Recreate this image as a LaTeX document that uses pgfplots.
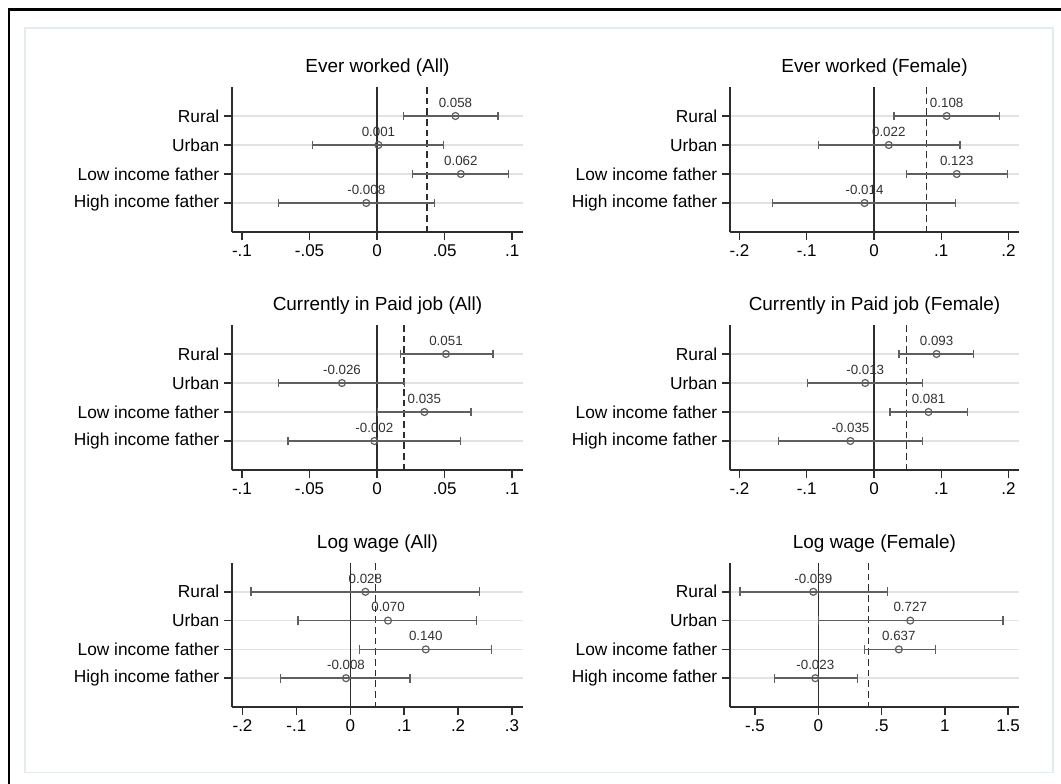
\documentclass[border=0pt]{standalone}
\usepackage{fontspec}
\setmainfont{Liberation Sans}
\usepackage{pgfplots}
\usepackage{pgfplotstable}
\pgfplotsset{compat=1.18}

\definecolor{gridc}{RGB}{226,226,226}
\definecolor{axc}{RGB}{45,45,45}
\definecolor{cic}{RGB}{95,95,95}
\definecolor{valc}{RGB}{50,50,50}
\definecolor{framec}{RGB}{228,236,238}

% Ever worked (All)
\pgfplotstableread{
pos est lo hi lab
1 0.058 0.0195 0.0894 0.058
2 0.001 -0.0479 0.0491 0.001
3 0.062 0.0262 0.0973 0.062
4 -0.008 -0.0731 0.0425 -0.008
}\tabA
% Ever worked (Female)
\pgfplotstableread{
pos est lo hi lab
1 0.108 0.0297 0.187 0.108
2 0.022 -0.0822 0.128 0.022
3 0.123 0.0485 0.198 0.123
4 -0.014 -0.1505 0.1214 -0.014
}\tabB
% Currently in Paid job (All)
\pgfplotstableread{
pos est lo hi lab
1 0.051 0.0173 0.0857 0.051
2 -0.026 -0.0729 0.0205 -0.026
3 0.035 0.0005 0.0696 0.035
4 -0.002 -0.066 0.0617 -0.002
}\tabC
% Currently in Paid job (Female)
\pgfplotstableread{
pos est lo hi lab
1 0.093 0.0372 0.1476 0.093
2 -0.013 -0.0986 0.0718 -0.013
3 0.081 0.0238 0.1387 0.081
4 -0.035 -0.1422 0.0718 -0.035
}\tabD
% Log wage (All)
\pgfplotstableread{
pos est lo hi lab
1 0.028 -0.184 0.240 0.028
2 0.070 -0.097 0.2338 0.070
3 0.140 0.0167 0.2616 0.140
4 -0.008 -0.130 0.111 -0.008
}\tabE
% Log wage (Female)
\pgfplotstableread{
pos est lo hi lab
1 -0.039 -0.618 0.548 -0.039
2 0.727 0.002 1.46 0.727
3 0.637 0.363 0.927 0.637
4 -0.023 -0.347 0.311 -0.023
}\tabF

\pgfplotsset{
  forest/.style={
    scale only axis,
    y dir=reverse, ymin=0, ymax=5,
    ytick={1,2,3,4},
    yticklabels={Rural,Urban,Low income father,High income father},
    axis x line*=bottom, axis y line*=left,
    axis line style={draw=axc, line width=1.3pt, -},
    ymajorgrids, grid style={draw=gridc, line width=1.3pt},
    tick style={draw=axc, line width=1.1pt},
    tick align=outside,
    major tick length=6pt,
    yticklabel style={font=\fontsize{13}{15}\selectfont, text=black},
    xticklabel style={font=\fontsize{12.75}{15}\selectfont, text=black},
    title style={font=\fontsize{14.2}{16}\selectfont, at={(0.5,1)}, anchor=south, yshift=1pt, inner sep=1pt},
    clip=false,
    anchor=north west,
  },
  leftcol/.style={width=218.25pt},
  rightcol/.style={width=216.75pt},
  small/.style={xmin=-0.1074, xmax=0.108, xtick={-0.1,-0.05,0,0.05,0.1}, xticklabels={-.1,-.05,0,.05,.1}},
  large/.style={xmin=-0.214, xmax=0.2155, xtick={-0.2,-0.1,0,0.1,0.2}, xticklabels={-.2,-.1,0,.1,.2}},
  zeroline/.style={draw=axc, line width=1.1pt, no marks},
  meanline/.style={draw=axc, line width=1.1pt, dashed, dash pattern=on 5pt off 3pt, no marks},
  ci/.style={draw=none, mark=o, mark size=2.6pt, mark options={draw=cic, fill=white, line width=0.9pt, solid},
    error bars/.cd, x dir=both, x explicit,
    error mark=|,
    error bar style={draw=cic, line width=1.2pt},
    error mark options={draw=cic, line width=1.0pt, mark size=3.3pt}},
  vals/.style={draw=none, no marks, nodes near coords, point meta=explicit symbolic,
    every node near coord/.style={font=\fontsize{10}{12}\selectfont, text=valc, anchor=south, yshift=6.2pt, inner sep=0pt}},
}

\newcommand{\panelplots}[2]{%
  \addplot[zeroline] coordinates {(0,0) (0,5)};
  \addplot[meanline] coordinates {(#2,0) (#2,5)};
  \addplot[ci] table[x=est, y=pos, x error plus expr=\thisrow{hi}-\thisrow{est}, x error minus expr=\thisrow{est}-\thisrow{lo}] {#1};
  \addplot[vals] table[x=est, y=pos, meta=lab] {#1};
}

\begin{document}
\begin{tikzpicture}
\useasboundingbox (0,0) rectangle (795.75pt,-588pt);
\fill[white] (0,0) rectangle (795.75pt,-588pt);
\draw[black, line width=1.6pt] (6pt,-7.1pt) -- (795.75pt,-7.1pt);
\draw[black, line width=1.6pt] (6.75pt,-7.1pt) -- (6.75pt,-588pt);
\draw[framec, line width=1.1pt] (18.75pt,-21pt) rectangle (789.75pt,-579.5pt);

% Row 1
\begin{axis}[forest, leftcol, small, height=108.75pt, at={(174pt,-65.25pt)}, title={Ever worked (All)}]
\panelplots{\tabA}{0.0368}
\end{axis}
\begin{axis}[forest, rightcol, large, height=108.75pt, at={(547.5pt,-65.25pt)}, title={Ever worked (Female)}]
\panelplots{\tabB}{0.0783}
\end{axis}

% Row 2
\begin{axis}[forest, leftcol, small, height=108.75pt, at={(174pt,-243.75pt)}, title={Currently in Paid job (All)}]
\panelplots{\tabC}{0.0198}
\end{axis}
\begin{axis}[forest, rightcol, large, height=108.75pt, at={(547.5pt,-243.75pt)}, title={Currently in Paid job (Female)}]
\panelplots{\tabD}{0.0486}
\end{axis}

% Row 3
\begin{axis}[forest, leftcol, height=108pt, at={(174pt,-422.25pt)}, title={Log wage (All)},
  xmin=-0.2195, xmax=0.3204, xtick={-0.2,-0.1,0,0.1,0.2,0.3}, xticklabels={-.2,-.1,0,.1,.2,.3}]
\panelplots{\tabE}{0.0464}
\end{axis}
\begin{axis}[forest, rightcol, height=108pt, at={(547.5pt,-422.25pt)}, title={Log wage (Female)},
  xmin=-0.697, xmax=1.586, xtick={-0.5,0,0.5,1,1.5}, xticklabels={-.5,0,.5,1,1.5}]
\panelplots{\tabF}{0.395}
\end{axis}
\end{tikzpicture}
\end{document}
